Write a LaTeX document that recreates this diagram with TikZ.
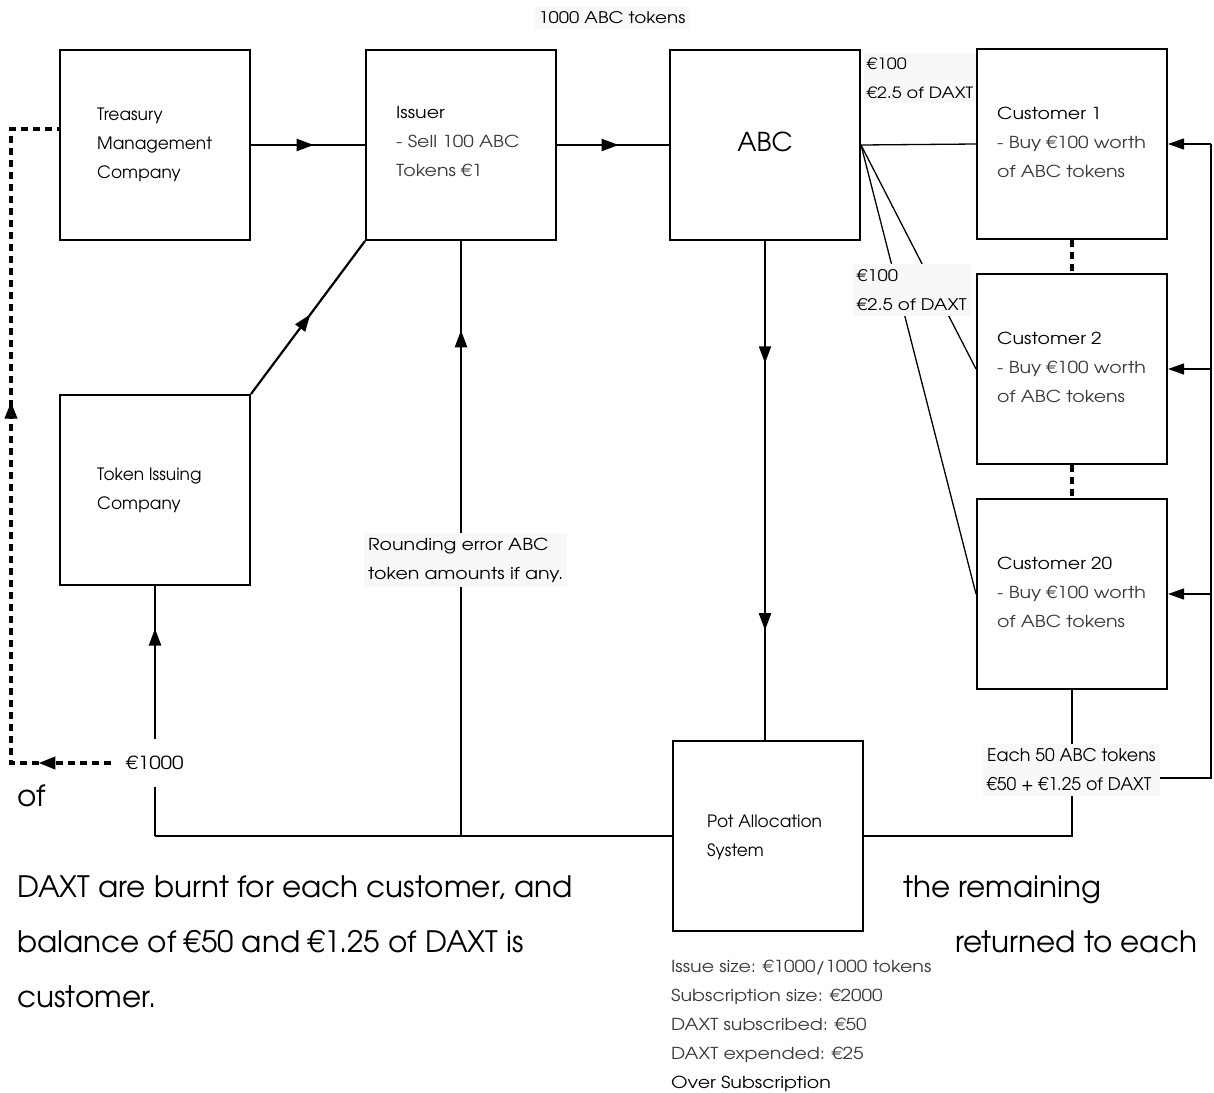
\documentclass[tikz,border=0pt]{standalone}
\usepackage{fontspec}
\setmainfont{texgyreadventor-regular.otf}
\newfontfamily\widefont{texgyreadventor-regular.otf}[FakeStretch=1.15]
\usetikzlibrary{arrows.meta,decorations.markings,backgrounds}
\definecolor{lightink}{HTML}{3A3A3A}
\definecolor{tagfill}{HTML}{F8F8F8}

\begin{document}
\begin{tikzpicture}[x=1pt,y=-1pt,
  box/.style={draw, line width=2pt, minimum width=190pt, minimum height=190pt, inner sep=0pt},
  txt/.style={font=\fontsize{17}{29}\selectfont, align=left, inner sep=0pt},
  wtxt/.style={font=\widefont\fontsize{16.5}{29}\selectfont, align=left, inner sep=0pt},
  tag/.style={fill=tagfill, font=\widefont\fontsize{16}{29}\selectfont, align=left, inner xsep=4pt, inner ysep=5pt},
  big/.style={font=\fontsize{29.5}{55}\selectfont, inner sep=0pt, anchor=base west},
  wire/.style={line width=2.2pt},
  fine/.style={line width=1.3pt},
  dashlink/.style={line width=3.8pt, dash pattern=on 7pt off 5pt},
  tipend/.style={-{Triangle[length=16pt,width=11pt]}},
  arrowat/.style={postaction={decorate}, decoration={markings,
      mark=at position #1 with {\arrow{Triangle[length=17pt,width=12pt]}}}},
  arrowtwo/.style 2 args={postaction={decorate}, decoration={markings,
      mark=at position #1 with {\arrow{Triangle[length=17pt,width=12pt]}},
      mark=at position #2 with {\arrow{Triangle[length=17pt,width=12pt]}}}}
]
\useasboundingbox (0,0) rectangle (1214,1092);

% boxes
\node[box] (treas) at (155,145) {};
\node[box] (issuer) at (461,145) {};
\node[box] (abc) at (765,145) {};
\node[box] (c1) at (1072,144) {};
\node[box] (c2) at (1072,369) {};
\node[box] (c20) at (1072,594) {};
\node[box] (tok) at (155,490) {};
\node[box] (pot) at (768,836) {};

% box texts
\node[txt, anchor=west] (treasT) at ([xshift=38pt]treas.west) {Treasury\\Management\\Company};
\node[wtxt, anchor=west] (issuerT) at ([xshift=31pt,yshift=3.5pt]issuer.west)
  {Issuer\\\textcolor{lightink}{- Sell 100 ABC}\\\textcolor{lightink}{Tokens €1}};
\node[font=\fontsize{26}{30}\selectfont, inner sep=0pt] (abcT) at ([yshift=3pt]abc.center) {ABC};
\node[wtxt, anchor=west] (c1T) at ([xshift=21pt,yshift=2pt]c1.west)
  {Customer 1\\\textcolor{lightink}{- Buy €100 worth}\\\textcolor{lightink}{of ABC tokens}};
\node[wtxt, anchor=west] (c2T) at ([xshift=21pt,yshift=2pt]c2.west)
  {Customer 2\\\textcolor{lightink}{- Buy €100 worth}\\\textcolor{lightink}{of ABC tokens}};
\node[wtxt, anchor=west] (c20T) at ([xshift=21pt,yshift=2pt]c20.west)
  {Customer 20\\\textcolor{lightink}{- Buy €100 worth}\\\textcolor{lightink}{of ABC tokens}};
\node[txt, anchor=west] (tokT) at ([xshift=38pt]tok.west) {Token Issuing\\Company};
\node[txt, anchor=west] (potT) at ([xshift=35pt,yshift=-1pt]pot.west) {Pot Allocation\\System};

% connector labels
\node[tag] (tokens) at (612,18) {1000 ABC tokens};
\node[tag, inner xsep=3pt, font=\widefont\fontsize{15.5}{29}\selectfont, anchor=west] (pay1) at (864,78) {€100\\€2.5 of DAXT};
\node[tag, anchor=west] (pay2) at (853,290) {€100\\€2.5 of DAXT};
\node[tag, font=\widefont\fontsize{16.5}{29}\selectfont, anchor=west] (round) at (364,560) {Rounding error ABC\\token amounts if any.};
\node[fill=white, font=\widefont\fontsize{18}{29}\selectfont, minimum height=48pt, inner xsep=15pt] (e1000) at (155,763) {€1000};
\node[tag, font=\fontsize{17.5}{29}\selectfont, anchor=west] (each) at (983,770) {Each 50 ABC tokens\\€50 + €1.25 of DAXT};

% issue figures
\node[wtxt, anchor=north west, text=lightink] (facts) at (671,960)
  {Issue size: €1000/1000 tokens\\Subscription size: €2000\\DAXT subscribed: €50\\DAXT expended: €25\\\textcolor{black}{Over Subscription}};

% explanatory text
\node[big] (of) at (17,806) {of};
\node[big] (l1) at (17,897) {DAXT are burnt for each customer, and};
\node[big] (l2) at (17,952) {balance of €50 and €1.25 of DAXT is};
\node[big] (l3) at (17,1007) {customer.};
\node[big] (r1) at (903,897) {the remaining};
\node[big] (r2) at (955,952) {returned to each};

% connectors
\coordinate (jt) at (tok.south |- pot.west);
\coordinate (ji) at (issuer.south |- pot.west);
\coordinate (rb) at (1211,778);
\coordinate (rt) at (1211,144);
\coordinate (dl) at (11,763);
\coordinate (ul) at (11,129);

\begin{pgfonlayer}{background}
\fill[white] (0,0) rectangle (1214,1092);
\draw[wire, arrowat=0.55] (treas.east) -- (issuer.west);
\draw[wire, arrowat=0.55] (issuer.east) -- (abc.west);
\draw[fine] (abc.east) -- (c1.west);
\draw[fine] (abc.east) -- (c2.west);
\draw[fine] (abc.east) -- (c20.west);
\draw[dashlink] (c1.south) -- (c2.north);
\draw[dashlink] (c2.south) -- (c20.north);
\draw[wire, arrowtwo={0.245}{0.78}] (abc.south) -- (abc.south |- pot.north);
\draw[wire] (c20.south) -- (c20.south |- pot.east) -- (pot.east);
\draw[fine] (each.east |- rb) -- (rb) -- (rt);
\draw[fine, tipend] (rt) -- (c1.east);
\draw[fine, tipend] (rb |- c2.east) -- (c2.east);
\draw[fine, tipend] (rb |- c20.east) -- (c20.east);
\draw[wire] (pot.west) -- (jt);
\draw[wire, arrowat=0.83] (jt) -- (tok.south);
\draw[wire, arrowat=0.85] (ji) -- (issuer.south);
\draw[wire, arrowat=0.52] (tok.north east) -- (issuer.south west);
\draw[dashlink, arrowtwo={0.093}{0.59}] (e1000.west) -- (dl) -- (ul) -- (ul -| treas.west);
\end{pgfonlayer}
\end{tikzpicture}
\end{document}
